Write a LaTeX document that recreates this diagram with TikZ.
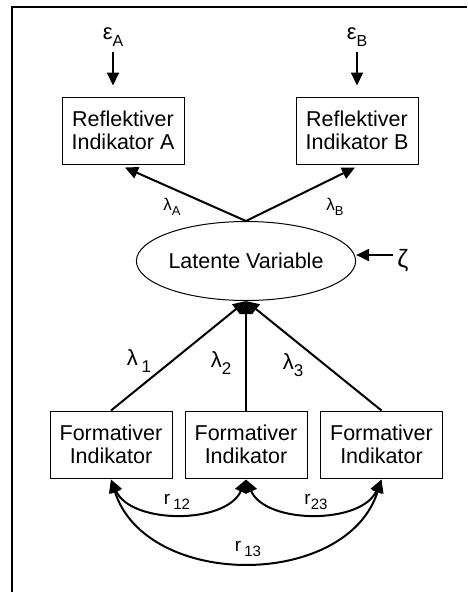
\documentclass[tikz,border=0pt]{standalone}
\usepackage{fontspec}
\setmainfont{Liberation Sans}
\usetikzlibrary{arrows.meta,shapes.geometric}
\newcommand\mysub[2]{\raisebox{-0.3em}{\fontsize{#1}{#1}\selectfont #2}}
\begin{document}
\begin{tikzpicture}[x=1pt,y=-1pt,
  txt/.style={font=\fontsize{21.5}{23.5}\selectfont},
  box/.style={txt, draw, line width=1pt, minimum width=122pt, minimum height=67pt, align=center, inner sep=0pt},
  lv/.style={txt, draw, ellipse, line width=1pt, minimum width=196pt, minimum height=79pt, inner sep=0pt},
  tip/.tip={Triangle[length=13pt,width=12pt]},
  arr/.style={line width=2pt, -tip},
  darr/.style={line width=2pt, tip-tip},
  lbl/.style={inner sep=0pt}]
\useasboundingbox (0,0) rectangle (467,592);
\draw[line width=2pt] (12,592) -- (12,6.5) -- (467,6.5);

% reflective part
\node[box] (boxA) at (123,130.5) {Reflektiver\\Indikator A};
\node[box] (boxB) at (357,130.5) {Reflektiver\\Indikator B};
\node[lbl, font=\fontsize{22}{22}\selectfont] (epsA) at (113,37) {ε\mysub{16}{A}};
\node[lbl, font=\fontsize{22}{22}\selectfont] (epsB) at (357,37) {ε\mysub{16}{B}};
\draw[arr] ([yshift=-6pt]epsA.south) -- ([yshift=11pt]epsA.south |- boxA.north);
\draw[arr] ([yshift=-6pt]epsB.south) -- ([yshift=11pt]epsB.south |- boxB.north);

\node[lv] (lv) at (246,261) {Latente Variable};
\draw[arr] (lv.north) -- ([xshift=2pt,yshift=-3pt]boxA.south);
\draw[arr] (lv.north) -- ([xshift=-2pt,yshift=-3pt]boxB.south);
\node[lbl, font=\fontsize{17}{17}\selectfont] (lA) at (172,207) {λ\mysub{13}{A}};
\node[lbl, font=\fontsize{17}{17}\selectfont] (lB) at (335,207) {λ\mysub{13}{B}};

\node[lbl, font=\fontsize{25}{25}\selectfont] (zeta) at (403,261) {ζ};
\draw[arr] ([yshift=6pt,xshift=-4pt]zeta.west) -- ([yshift=6pt]lv.east);

% formative part
\node[box] (f1) at (111,444.5) {Formativer\\Indikator};
\node[box] (f2) at (246,444.5) {Formativer\\Indikator};
\node[box] (f3) at (381.5,444.5) {Formativer\\Indikator};
\draw[arr] (f1.north) -- (lv.south);
\draw[arr] (f2.north) -- (lv.south);
\draw[arr] (f3.north) -- (lv.south);
\node[lbl, font=\fontsize{22}{22}\selectfont] (l1) at (139,361) {λ\,\mysub{17}{1}};
\node[lbl, font=\fontsize{22}{22}\selectfont] (l2) at (221,363) {λ\mysub{17}{2}};
\node[lbl, font=\fontsize{22}{22}\selectfont] (l3) at (293,365) {λ\mysub{17}{3}};

\draw[darr] ([yshift=-1pt]f1.south) .. controls +(20,45) and +(-20,45) .. ([yshift=-1pt]f2.south);
\draw[darr] ([yshift=-1pt]f2.south) .. controls +(20,45) and +(-20,45) .. ([yshift=-1pt]f3.south);
\draw[darr] ([yshift=-1pt]f1.south) .. controls +(35,110) and +(-35,110) .. ([yshift=-1pt]f3.south);
\node[lbl, font=\fontsize{19}{19}\selectfont] (r12) at (177,502) {r\,\mysub{15}{12}};
\node[lbl, font=\fontsize{19}{19}\selectfont] (r23) at (316,502) {r\mysub{15}{23}};
\node[lbl, font=\fontsize{19}{19}\selectfont] (r13) at (248,549) {r\,\mysub{15}{13}};
\end{tikzpicture}
\end{document}
